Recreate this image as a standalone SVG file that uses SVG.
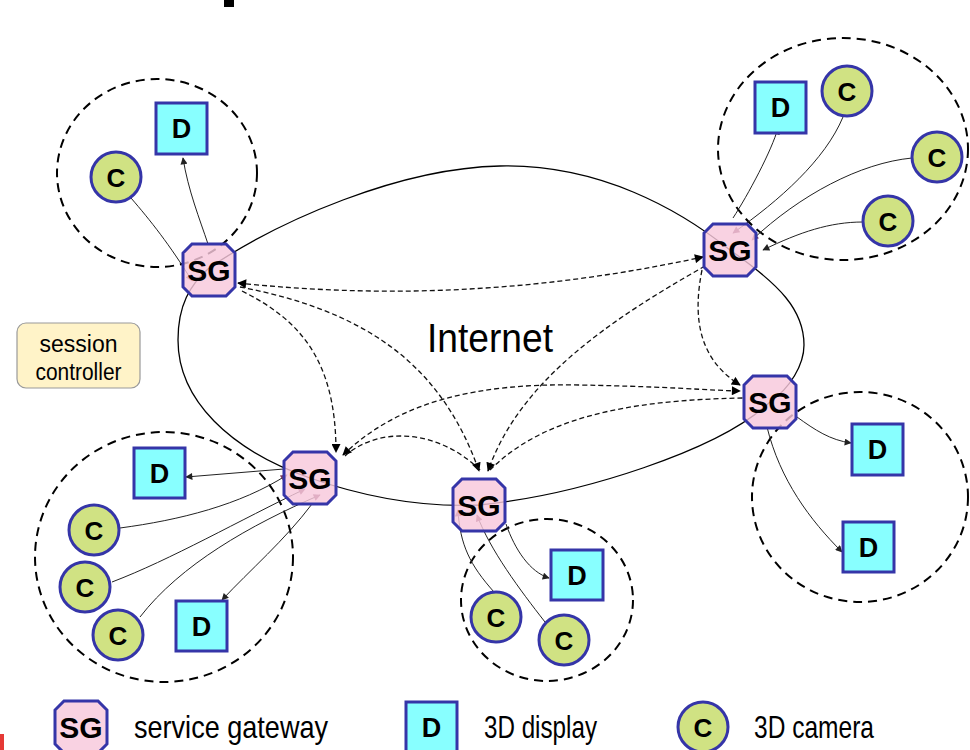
<svg xmlns="http://www.w3.org/2000/svg" xmlns:xlink="http://www.w3.org/1999/xlink" width="970" height="750" viewBox="0 0 970 750">
<style>
.sg{fill:#F8C8DC;fill-opacity:0.82;stroke:#3535A8;stroke-width:3}
.d{fill:#88FFFF;stroke:#3535A8;stroke-width:3}
.c{fill:#D0E283;stroke:#3535A8;stroke-width:3}
.lbl{font-family:"Liberation Sans",Arial,sans-serif;font-weight:bold;fill:#000;text-anchor:middle}
.cl{fill:none;stroke:#000;stroke-width:2;stroke-dasharray:9 6}
.net{fill:none;stroke:#000;stroke-width:1.3}
.s{fill:none;stroke:#222;stroke-width:1}
.dsh{fill:none;stroke:#111;stroke-width:1.3;stroke-dasharray:5 3}
.txt{font-family:"Liberation Sans",Arial,sans-serif;fill:#000}
</style>
<defs>
<polygon id="oct" points="-17,-26 17,-26 26,-17 26,17 17,26 -17,26 -26,17 -26,-17"/>
<marker id="a" viewBox="0 0 10 10" refX="9" refY="5" markerWidth="8" markerHeight="7" orient="auto" markerUnits="userSpaceOnUse"><path d="M0,0 L10,5 L0,10 z" fill="#222"/></marker>
<marker id="ai" viewBox="0 0 10 10" refX="9" refY="5" markerWidth="8" markerHeight="7" orient="auto" markerUnits="userSpaceOnUse"><path d="M0,0 L10,5 L0,10 z" fill="#7a3a5a"/></marker>
<marker id="b" viewBox="0 0 10 10" refX="9" refY="5" markerWidth="11" markerHeight="9" orient="auto" markerUnits="userSpaceOnUse"><path d="M0,0 L10,5 L0,10 z" fill="#000"/></marker>
<marker id="bs" viewBox="0 0 10 10" refX="1" refY="5" markerWidth="11" markerHeight="9" orient="auto" markerUnits="userSpaceOnUse"><path d="M10,0 L0,5 L10,10 z" fill="#000"/></marker>
</defs>
<rect width="970" height="750" fill="#fff"/>
<rect x="224" y="0" width="10" height="7" fill="#000"/>
<rect x="0" y="734" width="4" height="16" fill="#E53935"/>

<g id="clusters">
<ellipse class="cl" cx="157" cy="173" rx="100" ry="94"/>
<ellipse class="cl" cx="843" cy="149" rx="125" ry="111"/>
<ellipse class="cl" cx="164" cy="557" rx="129" ry="125"/>
<ellipse class="cl" cx="547" cy="600" rx="86" ry="81"/>
<ellipse class="cl" cx="860" cy="497" rx="108" ry="105"/>
</g>

<g id="internet">
<path class="net" d="M209,268 C280,220 400,168 500,166 C600,164 680,210 730,250 C780,285 804,310 804,345 C804,365 790,388 770,402 C720,450 580,495 479,505 C410,508 350,492 310,478 C230,450 178,400 178,340 C178,305 190,285 209,268 Z"/>
<text class="txt" x="427" y="352" font-size="41" textLength="126" lengthAdjust="spacingAndGlyphs">Internet</text>
</g>

<g id="connectors">
<path class="s" d="M131,198 C150,220 170,245 192,281" marker-end="url(#ai)"/>
<path class="s" d="M208,244 C200,220 188,190 183,158" marker-end="url(#a)"/>
<path class="s" d="M733,218 C748,195 772,150 778,128" marker-end="url(#a)"/>
<path class="s" d="M843,117 C825,160 780,200 733,233" marker-end="url(#ai)"/>
<path class="s" d="M912,158 C860,163 800,195 752,240" marker-end="url(#ai)"/>
<path class="s" d="M863,222 C830,222 800,232 763,250" marker-end="url(#a)"/>
<path class="s" d="M284,469 L186,477" marker-end="url(#a)"/>
<path class="s" d="M120,528 C180,520 240,505 287,475" marker-end="url(#ai)"/>
<path class="s" d="M112,582 C170,560 240,520 305,489" marker-end="url(#ai)"/>
<path class="s" d="M140,617 C180,565 250,525 320,495" marker-end="url(#ai)"/>
<path class="s" d="M312,504 C285,540 250,570 222,600" marker-end="url(#a)"/>
<path class="s" d="M494,592 C470,565 460,545 458,510" marker-end="url(#ai)"/>
<path class="s" d="M545,622 C520,590 490,550 477,515" marker-end="url(#ai)"/>
<path class="s" d="M506,524 C515,550 530,572 549,578" marker-end="url(#a)"/>
<path class="s" d="M797,417 C815,430 830,440 851,443" marker-end="url(#a)"/>
<path class="s" d="M767,427 C780,480 810,520 842,552" marker-end="url(#a)"/>

<path class="dsh" d="M238,283 C400,300 550,290 703,257" marker-start="url(#bs)" marker-end="url(#b)"/>
<path class="dsh" d="M242,291 C300,320 336,360 336,452" marker-end="url(#b)"/>
<path class="dsh" d="M240,287 C360,310 440,360 479,471" marker-end="url(#b)"/>
<path class="dsh" d="M705,266 C610,320 520,380 488,471" marker-end="url(#b)"/>
<path class="dsh" d="M702,270 C692,320 700,360 740,385" marker-end="url(#b)"/>
<path class="dsh" d="M343,455 C400,400 480,383 580,385 S700,390 740,391" marker-start="url(#bs)" marker-end="url(#b)"/>
<path class="dsh" d="M490,470 C540,420 620,400 744,398"/>
<path class="dsh" d="M345,456 C380,425 440,430 481,471"/>
</g>

<g id="sg1"><use href="#oct" x="209" y="270" class="sg"/><text class="lbl" x="209" y="281" font-size="30">SG</text></g>
<g id="sg2"><use href="#oct" x="730" y="250" class="sg"/><text class="lbl" x="730" y="261" font-size="30">SG</text></g>
<g id="sg3"><use href="#oct" x="770" y="402" class="sg"/><text class="lbl" x="770" y="413" font-size="30">SG</text></g>
<g id="sg4"><use href="#oct" x="310" y="478" class="sg"/><text class="lbl" x="310" y="489" font-size="30">SG</text></g>
<g id="sg5"><use href="#oct" x="479" y="505" class="sg"/><text class="lbl" x="479" y="516" font-size="30">SG</text></g>

<g id="d1"><rect class="d" x="156" y="103" width="51" height="51"/><text class="lbl" x="181.5" y="138" font-size="27">D</text></g>
<g id="d2"><rect class="d" x="755" y="82" width="51" height="51"/><text class="lbl" x="780.5" y="117" font-size="27">D</text></g>
<g id="d3"><rect class="d" x="134" y="448" width="51" height="50"/><text class="lbl" x="159.5" y="483" font-size="27">D</text></g>
<g id="d4"><rect class="d" x="176" y="601" width="51" height="50"/><text class="lbl" x="201.5" y="636" font-size="27">D</text></g>
<g id="d5"><rect class="d" x="551" y="550" width="52" height="50"/><text class="lbl" x="577" y="585" font-size="27">D</text></g>
<g id="d6"><rect class="d" x="852" y="424" width="51" height="51"/><text class="lbl" x="877.5" y="459" font-size="27">D</text></g>
<g id="d7"><rect class="d" x="843" y="522" width="51" height="50"/><text class="lbl" x="868.5" y="557" font-size="27">D</text></g>

<g id="c1"><circle class="c" cx="116" cy="177" r="25"/><text class="lbl" x="116" y="186.5" font-size="26">C</text></g>
<g id="c2"><circle class="c" cx="847" cy="91" r="25"/><text class="lbl" x="847" y="100.5" font-size="26">C</text></g>
<g id="c3"><circle class="c" cx="937" cy="157" r="25"/><text class="lbl" x="937" y="166.5" font-size="26">C</text></g>
<g id="c4"><circle class="c" cx="888" cy="221" r="25"/><text class="lbl" x="888" y="230.5" font-size="26">C</text></g>
<g id="c5"><circle class="c" cx="94" cy="530" r="25"/><text class="lbl" x="94" y="539.5" font-size="26">C</text></g>
<g id="c6"><circle class="c" cx="85" cy="587" r="25"/><text class="lbl" x="85" y="596.5" font-size="26">C</text></g>
<g id="c7"><circle class="c" cx="118" cy="635" r="25"/><text class="lbl" x="118" y="644.5" font-size="26">C</text></g>
<g id="c8"><circle class="c" cx="496" cy="617" r="25"/><text class="lbl" x="496" y="626.5" font-size="26">C</text></g>
<g id="c9"><circle class="c" cx="564" cy="640" r="25"/><text class="lbl" x="564" y="649.5" font-size="26">C</text></g>

<g id="session-controller">
<rect x="17" y="323" width="123" height="65" rx="9" fill="#FFF3C8" stroke="#9A9A9A" stroke-width="1.2"/>
<text class="txt" x="78.5" y="352" font-size="23" text-anchor="middle" textLength="78" lengthAdjust="spacingAndGlyphs">session</text>
<text class="txt" x="78.5" y="380" font-size="23" text-anchor="middle" textLength="86" lengthAdjust="spacingAndGlyphs">controller</text>
</g>

<g id="legend">
<g id="legend-sg"><use href="#oct" x="81" y="727" class="sg"/><text class="lbl" x="81" y="738" font-size="30">SG</text>
<text class="txt" x="134" y="738" font-size="32" textLength="194" lengthAdjust="spacingAndGlyphs">service gateway</text></g>
<g id="legend-d"><rect class="d" x="406" y="702" width="51" height="52"/><text class="lbl" x="431.5" y="737" font-size="27">D</text>
<text class="txt" x="484" y="738" font-size="32" textLength="113" lengthAdjust="spacingAndGlyphs">3D display</text></g>
<g id="legend-c"><circle class="c" cx="703" cy="727" r="25"/><text class="lbl" x="703" y="736.5" font-size="26">C</text>
<text class="txt" x="754" y="738" font-size="32" textLength="120" lengthAdjust="spacingAndGlyphs">3D camera</text></g>
</g>
</svg>
